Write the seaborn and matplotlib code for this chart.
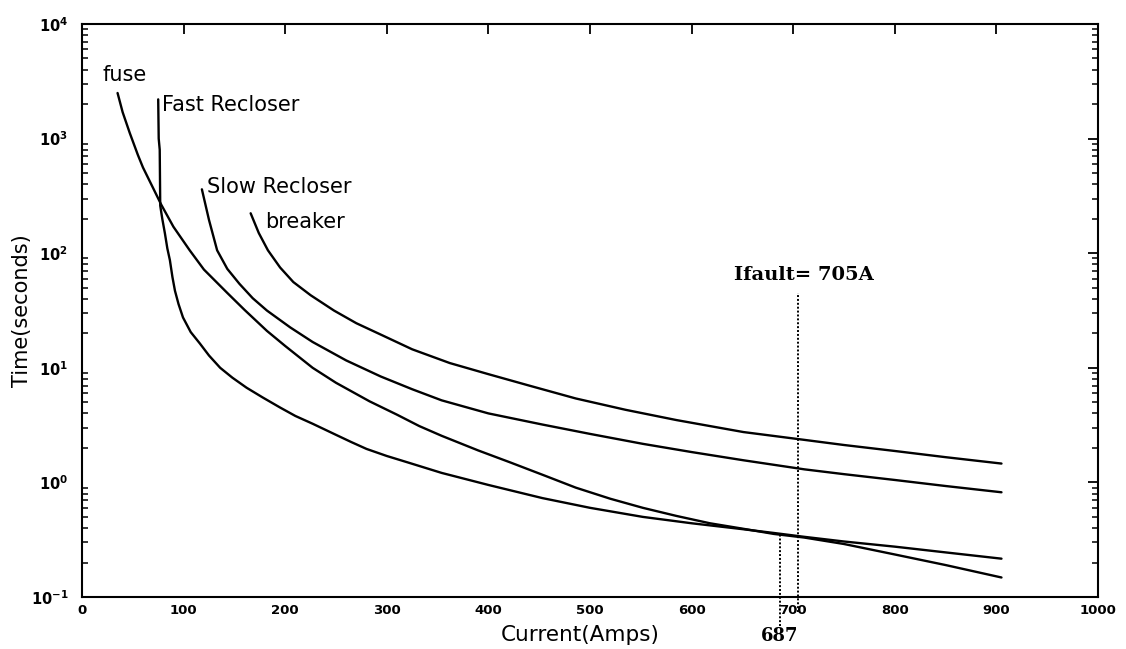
import matplotlib
matplotlib.use("Agg")
import matplotlib.pyplot as plt
import numpy as np
import pandas as pd
import seaborn as sns

# Time-current characteristics (current in A, operating time in s)
fuse_amps = [35, 40, 47, 55, 60, 70, 78, 90, 106, 120, 143, 160, 182, 200, 227, 250,
             283, 310, 332, 354, 390, 421, 455, 486, 520, 552, 585, 618, 650, 681,
             711, 750, 800, 850, 905]
fuse_secs = [2500, 1700, 1120, 720, 560, 370, 265, 170, 106, 72, 45, 32, 21, 15.5, 10, 7.4,
             5.1, 3.9, 3.1, 2.55, 1.9, 1.5, 1.15, 0.9, 0.72, 0.60, 0.51, 0.44, 0.395, 0.355,
             0.33, 0.29, 0.235, 0.19, 0.148]

fast_amps = [75, 75.5, 76.5, 77, 79, 81.6, 84, 86.5, 89, 91.5, 95, 99.4, 107, 116, 125, 136,
             148, 162, 178, 195, 210, 227, 250, 265, 280, 300, 320, 354, 400, 453, 500, 552,
             600, 651, 681, 711, 750, 800, 850, 905]
fast_secs = [2200, 1000, 800, 260, 200, 149, 110, 87, 62, 47, 36, 27.5, 20.5, 16.3, 12.8, 10,
             8.2, 6.7, 5.5, 4.5, 3.8, 3.25, 2.6, 2.25, 1.96, 1.7, 1.5, 1.21, 0.95, 0.73, 0.6,
             0.5, 0.44, 0.39, 0.362, 0.335, 0.305, 0.275, 0.245, 0.216]

slow_amps = [118, 125, 133, 143, 155, 168, 182, 205, 227, 260, 294, 325, 354, 400, 453,
             500, 552, 600, 651, 711, 750, 800, 850, 905]
slow_secs = [361, 195, 106, 73, 54, 40.5, 31.6, 22.5, 16.8, 11.6, 8.4, 6.5, 5.2, 4.0, 3.2,
             2.65, 2.17, 1.84, 1.56, 1.3, 1.18, 1.05, 0.93, 0.82]

breaker_amps = [166, 174, 183, 195, 208, 225, 248, 270, 294, 325, 362, 400, 440, 486, 535,
                585, 651, 711, 750, 800, 850, 905]
breaker_secs = [223, 150, 106, 75, 56, 43, 31.6, 24.5, 19.5, 14.5, 11, 8.8, 7.0, 5.4, 4.3,
                3.5, 2.75, 2.35, 2.12, 1.88, 1.66, 1.46]

curve_names = ["fuse", "Fast Recloser", "Slow Recloser", "breaker"]
label_amps = [20, 79, 123, 180]
label_secs = [3600, 1950, 376, 186]

fault_current = 705
coord_current = 687
coord_time = 0.355
fault_label_top = 45

x_ticks = [0, 100, 200, 300, 400, 500, 600, 700, 800, 900, 1000]
y_exponents = [-1, 0, 1, 2, 3, 4]

frames = []
for name, amps, secs in zip(curve_names,
                            [fuse_amps, fast_amps, slow_amps, breaker_amps],
                            [fuse_secs, fast_secs, slow_secs, breaker_secs]):
    frames.append(pd.DataFrame({"Current": amps, "Time": secs, "Device": name}))
df = pd.concat(frames, ignore_index=True)

sns.set_theme(style="white")
plt.rcParams["font.family"] = ["DejaVu Sans"]
plt.rcParams["mathtext.fontset"] = "dejavusans"
for key in ["text.color", "axes.labelcolor", "xtick.color", "ytick.color", "axes.edgecolor"]:
    plt.rcParams[key] = "black"

fig = plt.figure(figsize=(11.26, 6.49), dpi=100)
ax = fig.add_axes([82 / 1126, 1 - 597 / 649, 1016 / 1126, 573 / 649])

sns.lineplot(data=df, x="Current", y="Time", hue="Device",
             palette={n: "black" for n in curve_names},
             sort=False, estimator=None, legend=False, linewidth=1.7, ax=ax)

ax.set_yscale("log")
ax.set_xlim(0, 1000)
ax.set_ylim(0.1, 1e4)

# Fault current marker and fuse/recloser coordination point
ax.plot([fault_current, fault_current], [0.074, fault_label_top], color="black",
        linestyle=(0, (1, 1)), linewidth=1.4, clip_on=False)
ax.plot([coord_current, coord_current], [0.056, coord_time], color="black",
        linestyle=(0, (1, 1)), linewidth=1.4, clip_on=False)

ax.text(642, 64, f"Ifault= {fault_current}A", family="DejaVu Serif",
        fontweight="bold", fontsize=14, ha="left", va="center")
ax.text(coord_current, -0.068, f"{coord_current}", transform=ax.get_xaxis_transform(),
        family="DejaVu Serif", fontweight="bold", fontsize=13, ha="center", va="center")

for name, lx, ly in zip(curve_names, label_amps, label_secs):
    ax.text(lx, ly, name, fontsize=15, ha="left", va="center")

ax.set_xticks(x_ticks)
ax.set_xticklabels([str(t) for t in x_ticks], fontweight="bold", fontsize=9.5)
ax.set_yticks([10.0 ** e for e in y_exponents])
ax.set_yticklabels([r"$\mathbf{10^{%d}}$" % e for e in y_exponents], fontsize=10.5)
ax.yaxis.set_minor_locator(matplotlib.ticker.LogLocator(base=10, subs=np.arange(2, 10)))
ax.yaxis.set_minor_formatter(matplotlib.ticker.NullFormatter())

ax.tick_params(axis="both", which="major", direction="in", length=7, width=1.3,
               top=True, right=True, colors="black")
ax.tick_params(axis="y", which="major", pad=10)
ax.tick_params(axis="x", which="major", pad=5)
ax.tick_params(axis="y", which="minor", direction="in", length=4, width=1.1,
               left=True, right=True)

for spine in ax.spines.values():
    spine.set_linewidth(1.5)
    spine.set_color("black")

ax.set_xlabel("Current(Amps)", fontsize=15.5)
ax.set_ylabel("Time(seconds)", fontsize=15)
ax.xaxis.set_label_coords(0.49, -0.048)
ax.yaxis.set_label_coords(-0.049, 0.5)

fig.savefig("out.png", dpi=100)
